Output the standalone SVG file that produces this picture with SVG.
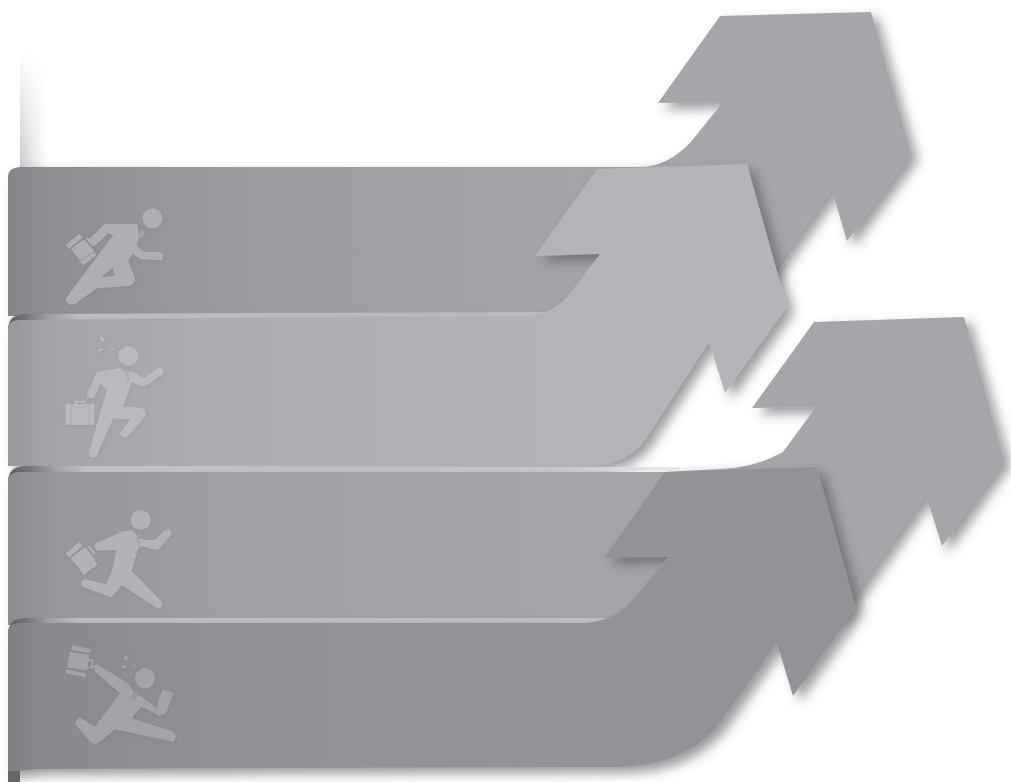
<svg xmlns="http://www.w3.org/2000/svg" width="1011" height="782" viewBox="0 0 1011 782">
<style>
.f1{fill:#aeafb2}.f2{fill:#b9babd}.f3{fill:#b2b3b6}.f4{fill:#a3a4a7}
.d1{fill:#a2a3a6}.d2{fill:#adaeb1}.d3{fill:#a6a7aa}.d4{fill:#97989b}
.band{filter:url(#sh)}
</style>
<defs>
<filter id="sh" x="-5%" y="-5%" width="112%" height="118%"><feDropShadow dx="7" dy="6" stdDeviation="6" flood-color="#4a4a4c" flood-opacity=".55"/></filter>
<filter id="sf" x="-20%" y="-20%" width="140%" height="140%"><feDropShadow dx="2" dy="3" stdDeviation="5" flood-color="#555" flood-opacity=".14"/></filter>
<linearGradient id="g1" gradientUnits="userSpaceOnUse" x1="8" y1="0" x2="640" y2="0"><stop offset="0" stop-color="#848588"/><stop offset=".07" stop-color="#8e8f92"/><stop offset=".35" stop-color="#9b9c9f"/><stop offset="1" stop-color="#a5a6a9"/></linearGradient>
<linearGradient id="g2" gradientUnits="userSpaceOnUse" x1="8" y1="0" x2="640" y2="0"><stop offset="0" stop-color="#98999c"/><stop offset=".07" stop-color="#a3a4a7"/><stop offset=".35" stop-color="#adaeb1"/><stop offset="1" stop-color="#b4b5b8"/></linearGradient>
<linearGradient id="g3" gradientUnits="userSpaceOnUse" x1="8" y1="0" x2="640" y2="0"><stop offset="0" stop-color="#8b8c8f"/><stop offset=".07" stop-color="#96979a"/><stop offset=".35" stop-color="#9fa0a3"/><stop offset="1" stop-color="#a5a6a9"/></linearGradient>
<linearGradient id="g4" gradientUnits="userSpaceOnUse" x1="8" y1="0" x2="340" y2="0"><stop offset="0" stop-color="#7f8083"/><stop offset=".12" stop-color="#898a8d"/><stop offset=".55" stop-color="#8f9094"/><stop offset="1" stop-color="#929397"/></linearGradient>
<linearGradient id="st" gradientUnits="userSpaceOnUse" x1="8" y1="0" x2="610" y2="0"><stop offset="0" stop-color="#5c5d5f"/><stop offset=".03" stop-color="#747577"/><stop offset=".07" stop-color="#a5a6a8"/><stop offset=".12" stop-color="#bfc0c2"/><stop offset="1" stop-color="#c0c1c3"/></linearGradient>
<linearGradient id="st2" gradientUnits="userSpaceOnUse" x1="8" y1="0" x2="680" y2="0"><stop offset="0" stop-color="#5c5d5f"/><stop offset=".03" stop-color="#747577"/><stop offset=".07" stop-color="#a5a6a8"/><stop offset=".12" stop-color="#c4c5c7"/><stop offset=".82" stop-color="#c8c9cb"/><stop offset="1" stop-color="#f4f4f5"/></linearGradient>
<linearGradient id="sh1" x1="0" y1="0" x2="1" y2="0"><stop offset="0" stop-color="#c8c9cb"/><stop offset=".5" stop-color="#e8e8e9"/><stop offset="1" stop-color="#fff"/></linearGradient>
<linearGradient id="fv" x1="0" y1="0" x2="0" y2="1"><stop offset="0" stop-color="#000"/><stop offset="1" stop-color="#fff"/></linearGradient>
<mask id="mv" maskContentUnits="objectBoundingBox"><rect width="1" height="1" fill="url(#fv)"/></mask>
</defs>
<rect width="1011" height="782" fill="#fff"/>
<rect x="20" y="50" width="28" height="118" fill="url(#sh1)" mask="url(#mv)"/>

<g id="band-1">
<path class="band" fill="url(#g1)" d="M8,176Q8,168 20,167L640,167Q666,167 690,143L723,102L658,103L720,16L871,12L911,155L847,241L832,190L740,316L8,316Z"/>
</g>
<g id="strip-1"><path fill="url(#st)" d="M8,330Q8,315 24,314L548,312L548,320L8,330Z"/></g>

<g id="band-2">
<path class="band" fill="url(#g2)" d="M8,328Q8,321 18,320L525,316Q552,314 567,297L600,254L535,256L597,169L747,164L787,307L725,393L709,342L643,443Q622,466 587,466L8,466Z"/>
</g>
<g id="strip-2"><path fill="url(#st2)" d="M8,482Q8,467 24,466L680,467L680,470L8,482Z"/></g>

<g id="band-3">
<path class="band" fill="url(#g3)" d="M8,480Q8,473 18,472L665,472L720,469Q755,468 783,452L816,407L752,408L814,322L964,317L1004,460L942,546L926,495L840,615L700,625L8,625Z"/>
</g>
<g id="strip-3"><path fill="url(#st)" d="M8,634Q8,619 24,618L610,618L610,624L8,634Z"/></g>

<g id="band-4">
<path class="band" fill="url(#g4)" d="M8,632Q8,624 18,623L587,623Q615,620 633,600L668,557L604,558L665,472L817,467L856,608L793,696L777,643L717,727Q680,767 617,767L40,769Q20,770 8,774Z"/>
</g>
<rect x="8" y="771" width="12" height="11" fill="#66676a"/>

<g id="runner-1" transform="translate(0,150) scale(.33333)" filter="url(#sf)">
<circle class="f1" cx="457" cy="205" r="30"/>
<path class="f1" fill-rule="evenodd" d="M268,268L310,226Q318,220 330,222L412,222L417,262L410,288L430,305L485,307Q497,318 485,331L425,328Q410,325 400,310L385,332L405,385Q405,405 385,408L290,415L225,462Q205,470 197,450Q198,440 205,435L340,255L325,250L285,287ZM305,382L345,378L338,352Z"/>
<path class="d1" d="M424,238L436,246L424,266L413,260Z"/>
<circle class="d1" cx="395" cy="282" r="3"/><circle class="d1" cx="382" cy="295" r="3"/>
<path class="f1" d="M197,285L238,252L248,263L207,296ZM212,298L252,268L282,302L242,332ZM240,335L282,305L290,316L250,346ZM258,266L264,262L283,282L277,288Z"/>
</g>

<g id="runner-2" transform="translate(0,150) scale(.33333)" filter="url(#sf)">
<circle class="f2" cx="385" cy="618" r="30"/>
<path class="f2" d="M300,558Q312,560 316,574Q302,578 300,558ZM292,602Q300,592 312,596Q304,608 292,602ZM331,590Q342,592 346,600Q334,600 331,590Z"/>
<path class="f2" d="M260,735L288,672Q292,665 300,664L360,654L375,664L395,664L412,672L430,685L478,652Q495,652 490,672L437,708Q425,712 415,705L395,696L370,770L420,772Q442,780 435,802L382,860Q365,868 360,850L390,808L340,805L290,918Q275,930 265,912L320,722L302,700L282,745Q265,750 260,735Z"/>
<path class="d2" d="M376,664L392,664L386,672L390,690L380,698L378,672Z"/>
<circle class="d2" cx="367" cy="718" r="3"/><circle class="d2" cx="361" cy="738" r="3"/>
<path class="f2" d="M197,765Q197,762 202,762L278,762Q283,762 283,766L283,820Q283,825 278,825L202,825Q197,825 197,820ZM225,762L225,752L255,752L255,762L249,762L249,758L231,758L231,762Z"/>
<path class="d2" d="M211,762H214V825H211ZM267,762H270V825H267Z"/>
</g>

<g id="runner-3" transform="translate(0,460) scale(.33333)" filter="url(#sf)">
<circle class="f3" cx="422" cy="180" r="30"/>
<path class="f3" d="M288,250L365,215Q380,210 400,212L415,235L440,240L465,240L497,208Q515,205 515,222L478,268Q470,272 460,268L425,258L415,265L395,332L485,425Q492,442 475,447L365,375L335,412L250,382Q234,365 255,358L318,372L335,335L350,270L292,272Q278,262 288,250Z"/>
<path class="d3" d="M409,225L421,225L416,235L421,254L412,262L410,236Z"/>
<circle class="d3" cx="408" cy="280" r="3"/><circle class="d3" cx="397" cy="298" r="3"/>
<path class="f3" d="M197,280L238,247L248,258L207,292ZM212,294L255,262L287,300L245,335ZM245,335L285,302L292,315L250,345ZM263,260L269,257L286,278L280,283Z"/>
</g>

<g id="runner-4" transform="translate(0,460) scale(.33333)" filter="url(#sf)">
<circle class="f4" cx="435" cy="655" r="30"/>
<path class="f4" d="M376,585Q386,592 380,602Q366,596 376,585ZM364,622Q372,612 382,618Q376,630 364,622ZM398,612Q408,616 408,622Q398,622 398,612Z"/>
<path class="f4" d="M280,620Q285,610 295,615L385,670L400,695L425,710L470,745L485,695Q500,685 520,700L500,755Q490,768 475,765L425,740L395,775L520,815Q535,830 520,845L345,808L295,850Q280,855 270,845L228,795Q222,780 240,772L285,800L360,700L285,635Z"/>
<path class="d4" d="M405,692L416,698L404,722L393,715Z"/>
<circle class="d4" cx="377" cy="745" r="3"/><circle class="d4" cx="366" cy="762" r="3"/>
<path class="f4" d="M216,556L272,567L270,580L214,570ZM209,575L268,585L262,632L202,622ZM198,628L258,640L256,652L197,640ZM266,597L282,600L279,625L264,625L266,620L274,618L275,606L265,604Z"/>
</g>
</svg>
